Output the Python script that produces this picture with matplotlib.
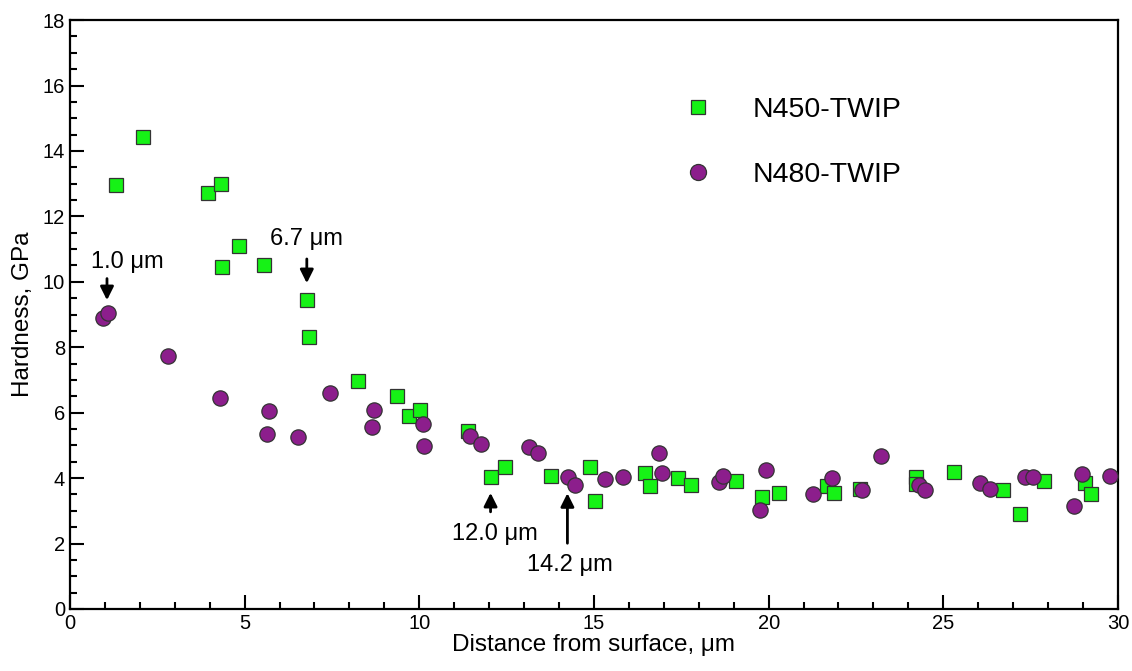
"""
Nanohardness profiles of nitrided TWIP steel
"""

import matplotlib.pyplot as plt
from matplotlib.ticker import MultipleLocator

plt.rcParams['font.family'] = ['Liberation Sans', 'DejaVu Sans']

# N450-TWIP (squares)
x_450 = [1.32, 2.10, 3.94, 4.31, 4.83, 4.35, 5.55, 6.78, 6.85, 8.25, 9.35, 9.70,
         10.02, 11.40, 12.04, 12.46, 13.77, 14.90, 15.02, 16.46, 16.61, 17.42,
         17.78, 19.07, 19.81, 20.29, 21.66, 21.88, 22.62, 24.22, 24.22, 25.32,
         26.72, 27.20, 27.89, 29.07, 29.22]
h_450 = [12.95, 14.42, 12.72, 13.0, 11.09, 10.46, 10.52, 9.43, 8.30, 6.97, 6.52, 5.91,
         6.08, 5.45, 4.02, 4.33, 4.07, 4.35, 3.31, 4.16, 3.76, 3.99,
         3.79, 3.92, 3.41, 3.55, 3.76, 3.55, 3.67, 4.02, 3.82, 4.20,
         3.63, 2.91, 3.92, 3.86, 3.51]

# N480-TWIP (circles)
x_480 = [0.95, 1.10, 2.82, 4.30, 5.71, 5.63, 6.52, 7.45, 8.70, 8.66, 10.12, 10.14,
         11.45, 11.76, 13.15, 13.39, 14.27, 14.47, 15.32, 15.82, 16.85, 16.96,
         18.57, 18.69, 19.75, 19.93, 21.28, 21.82, 22.67, 23.22, 24.31, 24.47,
         26.06, 26.33, 27.34, 27.58, 28.74, 28.98, 29.78]
h_480 = [8.91, 9.04, 7.74, 6.45, 6.05, 5.35, 5.26, 6.60, 6.09, 5.56, 5.64, 4.97,
         5.29, 5.03, 4.96, 4.76, 4.05, 3.79, 3.96, 4.05, 4.77, 4.16,
         3.89, 4.06, 3.03, 4.24, 3.51, 3.99, 3.63, 4.67, 3.78, 3.65,
         3.86, 3.68, 4.02, 4.02, 3.15, 4.14, 4.07]

# annotations: label, arrow x, arrow tail y, arrow tip y, text y
notes = [
    ('1.0 μm', 1.06, 10.1, 9.44, 10.6),
    ('6.7 μm', 6.78, 10.7, 9.96, 11.3),
    ('12.0 μm', 12.04, 2.97, 3.55, 2.28),
    ('14.2 μm', 14.24, 2.01, 3.54, 1.34),
]
text_x = [1.65, 6.76, 12.15, 14.31]

green = '#16f216'
purple = '#8c1e8c'
edge = '#333333'

fig = plt.figure(figsize=(11.32, 6.71), dpi=100)
ax = fig.add_axes([0.0618, 0.0924, 0.9258, 0.8776])

ax.plot(x_450, h_450, ls='none', marker='s', ms=9.5, mfc=green, mec=edge,
        mew=0.9, label='N450-TWIP', zorder=3)
ax.plot(x_480, h_480, ls='none', marker='o', ms=11, mfc=purple, mec=edge,
        mew=0.9, label='N480-TWIP', zorder=3)

for (label, ax_x, y0, y1, ty), tx in zip(notes, text_x):
    ax.annotate('', xy=(ax_x, y1), xytext=(ax_x, y0),
                arrowprops=dict(arrowstyle='-|>', color='black', lw=2,
                                mutation_scale=20, shrinkA=0, shrinkB=0))
    ax.text(tx, ty, label, ha='center', va='center', fontsize=17)

ax.set_xlim(0, 30)
ax.set_ylim(0, 18)
ax.xaxis.set_major_locator(MultipleLocator(5))
ax.xaxis.set_minor_locator(MultipleLocator(1))
ax.yaxis.set_major_locator(MultipleLocator(2))
ax.yaxis.set_minor_locator(MultipleLocator(0.5))
ax.tick_params(which='both', direction='in', top=False, right=False,
               width=1.5, labelsize=14.5)
ax.tick_params(which='major', length=10)
ax.tick_params(which='minor', length=5)
for s in ax.spines.values():
    s.set_linewidth(1.6)

ax.set_xlabel('Distance from surface, μm', fontsize=17.5, labelpad=1)
ax.set_ylabel('Hardness, GPa', fontsize=17.5, labelpad=6)

ax.legend(loc='center left', bbox_to_anchor=(0.548, 0.792), frameon=False,
          fontsize=20.5, handletextpad=0.9, labelspacing=1.35, markerscale=1.05)

fig.savefig('out.png', dpi=100)
